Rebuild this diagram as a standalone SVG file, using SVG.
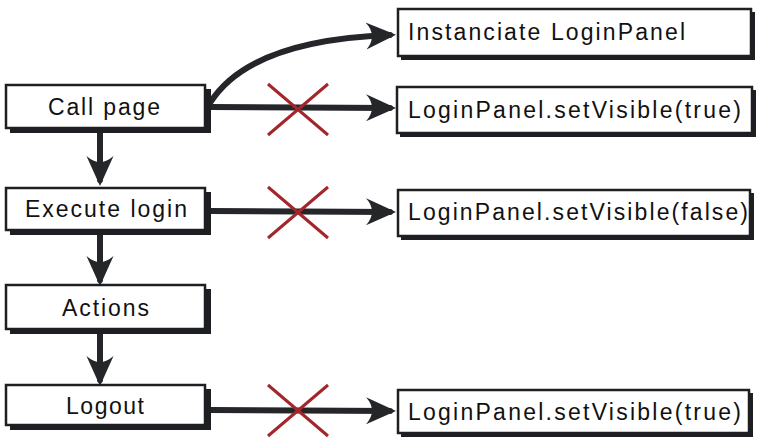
<svg xmlns="http://www.w3.org/2000/svg" width="757" height="438" viewBox="0 0 757 438">
<style>
.sh{fill:#1e1f22}
.bx{fill:#fff;stroke:#1e1f22;stroke-width:2.5}
.t{font-family:"Comic Sans MS","Liberation Sans",sans-serif;font-size:23px;fill:#111}
.ln{stroke:#24262a;stroke-width:6;fill:none;stroke-linecap:round}
.x{stroke:#a3262c;stroke-width:3;fill:none}
</style>
<defs>
<marker id="ah" viewBox="0 0 10 10" refX="8" refY="5" markerWidth="5" markerHeight="5" orient="auto" markerUnits="strokeWidth">
<path d="M0,0.5 Q4,5 0,9.5 L10,5 Z" fill="#24262a"/>
</marker>
</defs>
<g id="connectors">
<path class="ln" d="M210,103 C240,55 310,38 390,35" marker-end="url(#ah)"/>
<path class="ln" d="M210,107 L390,108" marker-end="url(#ah)"/>
<path class="ln" d="M210,211 L390,212" marker-end="url(#ah)"/>
<path class="ln" d="M210,410 L390,411" marker-end="url(#ah)"/>
<path class="ln" d="M100,133 L100,180" marker-end="url(#ah)"/>
<path class="ln" d="M100,234 L100,280" marker-end="url(#ah)"/>
<path class="ln" d="M100,334 L100,380" marker-end="url(#ah)"/>
<path class="x" d="M268,84 L328,135 M328,84 L268,135"/>
<path class="x" d="M268,187 L328,238 M328,187 L268,238"/>
<path class="x" d="M268,385 L328,436 M328,385 L268,436"/>
</g>
<g id="call-page">
<rect class="sh" x="10" y="89" width="201" height="44"/>
<rect class="bx" x="6" y="85" width="199" height="43"/>
<text class="t" x="48" y="115" textLength="112">Call page</text>
</g>
<g id="execute-login">
<rect class="sh" x="10" y="192" width="201" height="43"/>
<rect class="bx" x="6" y="188" width="199" height="42"/>
<text class="t" x="25" y="217" textLength="162">Execute login</text>
</g>
<g id="actions">
<rect class="sh" x="10" y="289" width="201" height="45"/>
<rect class="bx" x="6" y="285" width="199" height="44"/>
<text class="t" x="62" y="316" textLength="87">Actions</text>
</g>
<g id="logout">
<rect class="sh" x="10" y="389" width="201" height="41"/>
<rect class="bx" x="6" y="385" width="199" height="40"/>
<text class="t" x="66" y="414" textLength="78">Logout</text>
</g>
<g id="instanciate">
<rect class="sh" x="401" y="12" width="354" height="48"/>
<rect class="bx" x="398" y="9" width="353" height="47"/>
<text class="t" x="408" y="40" textLength="277">Instanciate LoginPanel</text>
</g>
<g id="setvisible-true-1">
<rect class="sh" x="400" y="90" width="356" height="47"/>
<rect class="bx" x="397" y="87" width="355" height="46"/>
<text class="t" x="408" y="118" textLength="333">LoginPanel.setVisible(true)</text>
</g>
<g id="setvisible-false">
<rect class="sh" x="401" y="193" width="353" height="47"/>
<rect class="bx" x="398" y="190" width="352" height="46"/>
<text class="t" x="408" y="220" textLength="340">LoginPanel.setVisible(false)</text>
</g>
<g id="setvisible-true-2">
<rect class="sh" x="401" y="393" width="352" height="44"/>
<rect class="bx" x="398" y="390" width="351" height="43"/>
<text class="t" x="408" y="420" textLength="333">LoginPanel.setVisible(true)</text>
</g>
</svg>
